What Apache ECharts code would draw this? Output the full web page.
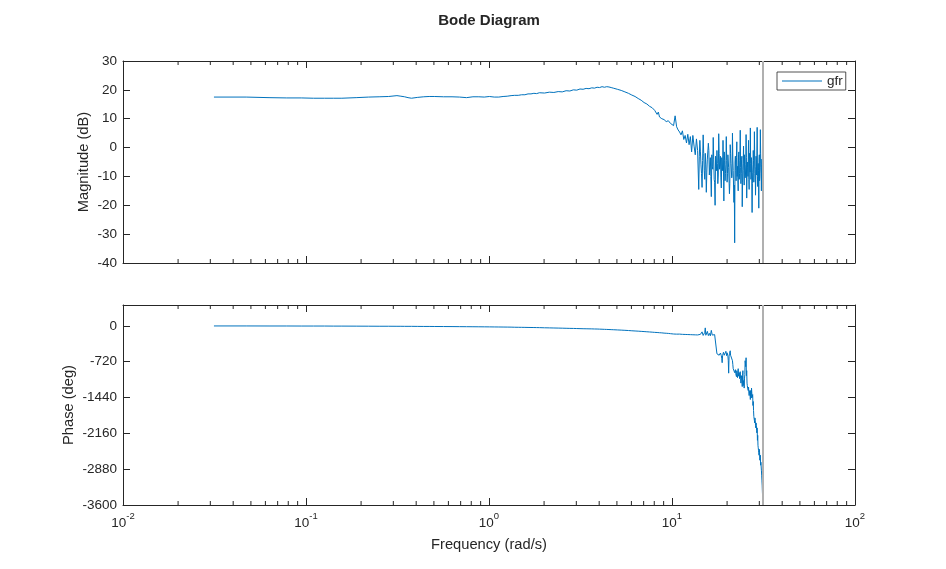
<!DOCTYPE html>
<html>
<head>
<meta charset="utf-8">
<title>Bode Diagram</title>
<script src="https://cdn.jsdelivr.net/npm/echarts@6/dist/echarts.min.js"></script>
<style>
  html, body { margin: 0; padding: 0; background: #fff; }
  #chart { width: 946px; height: 569px; }
</style>
</head>
<body>
<div id="chart"></div>
<script>
// frequency points (rad/s)
const freq = [
  0.0314, 0.0471, 0.0628, 0.0785, 0.0942, 0.110, 0.126, 0.141, 0.157, 0.188,
  0.220, 0.251, 0.283, 0.314, 0.330, 0.346, 0.361, 0.377, 0.408, 0.440,
  0.471, 0.502, 0.565, 0.628, 0.691, 0.754, 0.817, 0.880, 0.942, 1.005,
  1.068, 1.131, 1.194, 1.257, 1.320, 1.382, 1.445, 1.508, 1.571, 1.634,
  1.696, 1.759, 1.822, 1.885, 2.011, 2.136, 2.262, 2.388, 2.513, 2.639,
  2.765, 2.890, 3.016, 3.142, 3.267, 3.393, 3.519, 3.644, 3.770, 3.896,
  4.021, 4.147, 4.273, 4.398, 4.524, 4.650, 4.775, 5.027, 5.278, 5.529,
  5.781, 6.032, 6.283, 6.535, 6.786, 7.037, 7.288, 7.540, 7.791, 8.042,
  8.168, 8.293, 8.419, 8.545, 8.796, 9.048, 9.299, 9.550, 9.802, 10.0,
  10.2, 10.4, 10.6, 10.8, 11.0, 11.2, 11.4, 11.6, 11.8, 12.0,
  12.2, 12.4, 12.6, 12.8, 13.0, 13.2, 13.4, 13.6, 13.8, 14.0,
  14.2, 14.4, 14.6, 14.8, 15.0, 15.2, 15.4, 15.6, 15.8, 16.0,
  16.2, 16.4, 16.6, 16.8, 17.0, 17.2, 17.4, 17.6, 17.8, 18.0,
  18.2, 18.4, 18.6, 18.8, 19.0, 19.2, 19.4, 19.6, 19.8, 20.0,
  20.2, 20.4, 20.6, 20.8, 21.0, 21.2, 21.4, 21.6, 21.8, 22.0,
  22.2, 22.4, 22.6, 22.8, 23.0, 23.2, 23.4, 23.6, 23.8, 24.0,
  24.2, 24.4, 24.6, 24.8, 25.0, 25.2, 25.4, 25.6, 25.8, 26.0,
  26.2, 26.4, 26.6, 26.8, 27.0, 27.2, 27.4, 27.6, 27.8, 28.0,
  28.2, 28.4, 28.6, 28.8, 29.0, 29.2, 29.4, 29.6, 29.8, 30.0,
  30.2, 30.4, 30.6, 30.8, 31.0, 31.2, 31.4
];

// magnitude (dB)
const magDb = [
  17.5, 17.5, 17.3, 17.2, 17.2, 17.1, 17.1, 17.1, 17.1, 17.3,
  17.5, 17.6, 17.7, 18.0, 17.8, 17.6, 17.3, 17.1, 17.4, 17.6,
  17.7, 17.7, 17.6, 17.6, 17.5, 17.3, 17.6, 17.6, 17.5, 17.7,
  17.5, 17.5, 17.7, 17.8, 18.0, 18.1, 18.1, 18.3, 18.3, 18.6,
  18.6, 18.8, 18.7, 19.0, 18.9, 19.2, 19.1, 19.4, 19.3, 19.7,
  19.6, 20.0, 19.9, 20.3, 20.2, 20.5, 20.4, 20.7, 20.6, 20.9,
  20.8, 21.1, 20.9, 21.1, 21.0, 20.8, 20.6, 20.2, 19.8, 19.3,
  18.8, 18.2, 17.7, 17.0, 16.4, 15.6, 15.1, 14.3, 13.8, 12.9,
  12.4, 11.5, 12.3, 10.6, 10.0, 9.7, 9.0, 9.3, 8.4, 8.0,
  7.6, 11.0, 7.2, 6.1, 5.4, 4.4, 5.8, 2.8, 4.2, 1.6,
  4.6, 1.0, 3.8, -1.5, 4.2, 0.5, -2.5, 3.0, -1.0, -14.5,
  2.5, -6.0, -13.8, 4.4, -8.0, -2.0, -15.5, -4.0, 1.5, -9.5,
  -3.5, -17.0, -6.5, 3.5, -11.0, -20.0, -5.0, -1.0, -12.5, 4.8,
  -7.5, -3.0, -14.0, -6.0, 2.5, -18.5, -4.5, -9.0, 3.8, -12.0,
  -2.5, -7.0, -16.0, 1.0, -5.5, -10.5, 5.0, -8.0, -19.0, -33.0,
  -3.0, -11.5, 2.0, -6.5, -15.0, -1.5, -9.0, 6.0, -12.5, -4.0,
  -20.5, -7.5, 0.5, -13.0, -2.0, -9.5, 4.5, -17.5, -5.0, -10.0,
  2.5, -14.5, -6.0, 6.8, -11.0, -3.5, -22.5, -8.5, -1.0, -12.0,
  5.5, -6.5, -16.5, -3.0, -9.5, 7.0, -13.5, -5.5, -21.0, -2.5,
  -10.0, 6.2, -7.0, -15.0, -4.0, -11.5, -5.0
];

// phase (deg)
const phaseDeg = [
  -1, -1, -2, -2, -3, -3, -3, -4, -4, -5,
  -6, -7, -7, -8, -8, -9, -9, -9, -10, -11,
  -11, -12, -13, -14, -15, -16, -17, -18, -19, -20,
  -21, -22, -23, -24, -25, -27, -28, -29, -30, -31,
  -32, -33, -34, -35, -38, -40, -42, -44, -46, -48,
  -50, -51, -53, -55, -57, -58, -59, -60, -62, -63,
  -65, -67, -69, -71, -73, -75, -77, -81, -85, -89,
  -93, -98, -102, -106, -110, -114, -118, -122, -126, -130,
  -131, -133, -135, -137, -140, -145, -148, -151, -156, -160,
  -163, -158, -166, -168, -165, -172, -170, -175, -172, -178,
  -174, -180, -176, -183, -178, -186, -180, -195, -182, -150,
  -188, -180, -120, -192, -175, -40, -185, -110, -195, -150,
  -200, -90, -185, -170, -210, -160, -195, -560, -590, -570,
  -610, -545, -600, -740, -580, -500, -560, -620, -480, -540,
  -600, -950, -560, -500, -620, -580, -700, -860, -820, -940,
  -880, -1000, -900, -1040, -860, -980, -1060, -920, -1150, -1000,
  -1220, -900, -1100, -1250, -980, -760, -640, -900, -1200, -1280,
  -1230, -1400, -1300, -1480, -1350, -1250, -1440, -1380, -1520, -1820,
  -1900, -1850, -2000, -1950, -2100, -2050, -2200, -2450, -2550, -2480,
  -2700, -2600, -2740, -2900, -3100, -3350, -3560
];

// extra in-between samples in the noisy band (rad/s, dB, deg)
const freqMid = [
  14.1, 14.3, 14.5, 14.7, 14.9, 15.1, 15.3, 15.5, 15.7, 15.9,
  16.1, 16.3, 16.5, 16.7, 16.9, 17.1, 17.3, 17.5, 17.7, 17.9,
  18.1, 18.3, 18.5, 18.7, 18.9, 19.1, 19.3, 19.5, 19.7, 19.9,
  20.1, 20.3, 20.5, 20.7, 20.9, 21.1, 21.3, 21.5, 21.7, 21.9,
  22.1, 22.3, 22.5, 22.7, 22.9, 23.1, 23.3, 23.5, 23.7, 23.9,
  24.1, 24.3, 24.5, 24.7, 24.9, 25.1, 25.3, 25.5, 25.7, 25.9,
  26.1, 26.3, 26.5, 26.7, 26.9, 27.1, 27.3, 27.5, 27.7, 27.9,
  28.1, 28.3, 28.5, 28.7, 28.9, 29.1, 29.3, 29.5, 29.7, 29.9,
  30.1, 30.3, 30.5, 30.7, 30.9, 31.1, 31.3
];
const magMid = [
  -3.0, -1.5, -9.0, -4.5, -2.0, -11.0, -6.0, -8.5, -3.5, -1.0,
  -6.0, -10.0, -2.5, -7.5, -4.0, -12.0, -3.0, -8.0, -5.5, -9.5,
  -2.0, -6.5, -10.5, -3.5, -8.0, -5.0, -1.5, -11.5, -6.0, -4.5,
  -9.0, -3.0, -7.0, -12.5, -2.0, -6.0, -9.5, -4.0, -7.5, -13.0,
  -5.0, -8.0, -3.5, -10.0, -6.5, -2.5, -11.0, -4.5, -7.0, -9.0,
  -3.0, -12.0, -5.5, -8.0, -2.5, -10.5, -6.0, -3.5, -9.0, -7.0,
  -4.0, -11.0, -2.0, -8.5, -5.5, -9.5, -3.0, -12.5, -6.0, -4.5,
  -9.0, -2.5, -7.5, -11.0, -5.0, -3.5, -10.0, -6.5, -8.0, -4.0,
  -11.5, -5.5, -2.0, -9.0, -6.0, -12.0, -4.5
];
const phaseMid = [
  -185, -170, -190, -160, -180, -130, -188, -175, -150, -190,
  -180, -195, -140, -190, -185, -175, -200, -180, -600, -575,
  -590, -620, -570, -650, -600, -530, -590, -560, -510, -600,
  -570, -700, -620, -540, -590, -610, -620, -780, -900, -860,
  -920, -960, -1020, -880, -950, -1010, -940, -1100, -1050, -1180,
  -1100, -1000, -1200, -1150, -1050, -700, -820, -1000, -1150, -1250,
  -1300, -1350, -1420, -1380, -1300, -1450, -1350, -1480, -1600, -1700,
  -1850, -1950, -1900, -2050, -2000, -2150, -2300, -2400, -2500, -2600,
  -2550, -2650, -2800, -2750, -3000, -3200, -3450
];

const nyquistFreq = 31.4159;
const freqRange = [0.01, 100];
const magRange = [-40, 30];
const magStep = 10;
const phaseRange = [-3600, 420];
const phaseStep = 720;
const minorDecades = [0.01, 0.1, 1, 10];
const minorSteps = [2, 3, 4, 5, 6, 7, 8, 9];

const ink = '#262626';
const lineBlue = '#0072BD';
const font = 'Liberation Sans, Arial, sans-serif';

const byFreq = (a, b) => a[0] - b[0];
const magPoints = freq.map((f, i) => [f, magDb[i]])
  .concat(freqMid.map((f, i) => [f, magMid[i]])).sort(byFreq);
const phasePoints = freq.map((f, i) => [f, phaseDeg[i]])
  .concat(freqMid.map((f, i) => [f, phaseMid[i]])).sort(byFreq);
const minorFreqs = [];
minorDecades.forEach(d => minorSteps.forEach(m => minorFreqs.push(d * m)));

// minor log ticks on the bottom and top edge of a grid
function renderMinorTicks(params, api) {
  const cs = params.coordSys;
  const x = api.coord([api.value(0), api.value(1)])[0];
  const style = { stroke: ink, lineWidth: 1 };
  return {
    type: 'group',
    children: [
      { type: 'line', shape: { x1: x, y1: cs.y + cs.height, x2: x, y2: cs.y + cs.height - 4 }, style },
      { type: 'line', shape: { x1: x, y1: cs.y, x2: x, y2: cs.y + 4 }, style }
    ]
  };
}

function logAxis(gridIndex, position, showLabels, name) {
  return {
    type: 'log',
    logBase: 10,
    gridIndex: gridIndex,
    position: position,
    min: freqRange[0],
    max: freqRange[1],
    name: name || '',
    nameLocation: 'middle',
    nameGap: 32,
    nameMoveOverlap: false,
    nameTextStyle: { color: ink, fontSize: 14.7, fontFamily: font },
    axisLine: { show: true, onZero: false, lineStyle: { color: ink, width: 1 } },
    axisTick: { show: true, inside: true, length: 7, lineStyle: { color: ink } },
    splitLine: { show: false },
    axisLabel: {
      show: showLabels,
      margin: 6,
      formatter: v => '{b|10}{s|' + Math.round(Math.log10(v)) + '}',
      rich: {
        b: { fontSize: 13.5, color: ink, fontFamily: font, lineHeight: 24 },
        s: { fontSize: 9.5, color: ink, fontFamily: font, lineHeight: 10, verticalAlign: 'top' }
      }
    }
  };
}

function linAxis(gridIndex, position, range, step, showLabels, name, gap) {
  return {
    type: 'value',
    gridIndex: gridIndex,
    position: position,
    min: range[0],
    max: range[1],
    interval: step,
    name: name || '',
    nameLocation: 'middle',
    nameGap: gap || 30,
    nameRotate: 90,
    nameMoveOverlap: false,
    nameTextStyle: { color: ink, fontSize: 14.7, fontFamily: font },
    axisLine: { show: true, onZero: false, lineStyle: { color: ink, width: 1 } },
    axisTick: { show: true, inside: true, length: 7, lineStyle: { color: ink } },
    splitLine: { show: false },
    axisLabel: {
      show: showLabels,
      margin: 6,
      color: ink,
      fontSize: 13.5,
      fontFamily: font,
      showMaxLabel: range[1] % step === 0,
      formatter: v => String(v)
    }
  };
}

const nyquistMark = {
  silent: true,
  symbol: ['none', 'none'],
  label: { show: false },
  lineStyle: { color: '#b0b0b0', width: 2, type: 'solid' },
  emphasis: { disabled: true },
  animation: false,
  data: [{ xAxis: nyquistFreq }]
};

const chart = echarts.init(document.getElementById('chart'));
chart.setOption({
  animation: false,
  backgroundColor: '#fff',
  textStyle: { fontFamily: font },
  title: {
    text: 'Bode Diagram',
    left: 484,
    textAlign: 'center',
    top: 8,
    textStyle: { color: ink, fontSize: 15, fontWeight: 'bold', fontFamily: font }
  },
  legend: {
    data: ['gfr'],
    left: 777,
    top: 72,
    orient: 'horizontal',
    icon: 'rect',
    itemWidth: 40,
    itemHeight: 1,
    padding: [2, 3, 2, 5],
    borderColor: ink,
    borderWidth: 0.8,
    backgroundColor: '#fff',
    selectedMode: false,
    textStyle: { color: ink, fontSize: 13.5, fontFamily: font }
  },
  grid: [
    { left: 123, right: 91, top: 61, height: 202 },
    { left: 123, right: 91, top: 305, height: 200 }
  ],
  xAxis: [
    logAxis(0, 'bottom', false),
    logAxis(0, 'top', false),
    logAxis(1, 'bottom', true, 'Frequency (rad/s)'),
    logAxis(1, 'top', false)
  ],
  yAxis: [
    linAxis(0, 'left', magRange, magStep, true, 'Magnitude (dB)', 32),
    linAxis(0, 'right', magRange, magStep, false),
    linAxis(1, 'left', phaseRange, phaseStep, true, 'Phase (deg)', 47),
    linAxis(1, 'right', phaseRange, phaseStep, false)
  ],
  series: [
    {
      name: 'gfr',
      type: 'line',
      xAxisIndex: 0,
      yAxisIndex: 0,
      data: magPoints,
      symbol: 'none',
      showSymbol: false,
      lineStyle: { color: lineBlue, width: 1 },
      itemStyle: { color: lineBlue },
      markLine: nyquistMark
    },
    {
      name: 'gfr',
      type: 'line',
      xAxisIndex: 2,
      yAxisIndex: 2,
      data: phasePoints,
      symbol: 'none',
      showSymbol: false,
      lineStyle: { color: lineBlue, width: 1 },
      itemStyle: { color: lineBlue },
      markLine: nyquistMark
    },
    {
      type: 'custom',
      xAxisIndex: 0,
      yAxisIndex: 0,
      silent: true,
      clip: false,
      encode: { x: 0, y: 1 },
      data: minorFreqs.map(f => [f, magRange[0]]),
      renderItem: renderMinorTicks
    },
    {
      type: 'custom',
      xAxisIndex: 2,
      yAxisIndex: 2,
      silent: true,
      clip: false,
      encode: { x: 0, y: 1 },
      data: minorFreqs.map(f => [f, phaseRange[0]]),
      renderItem: renderMinorTicks
    }
  ]
});
</script>
</body>
</html>
